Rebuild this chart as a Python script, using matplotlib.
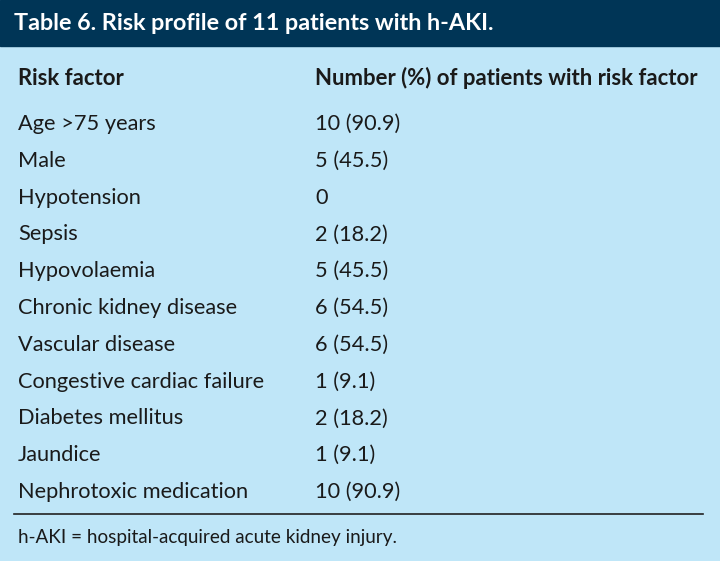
import matplotlib.pyplot as plt
from matplotlib.patches import Rectangle

title = "Table 6. Risk profile of 11 patients with h-AKI."
col_headers = ["Risk factor", "Number (%) of patients with risk factor"]
risk_factors = ["Age >75 years", "Male", "Hypotension", "Sepsis", "Hypovolaemia",
                "Chronic kidney disease", "Vascular disease",
                "Congestive cardiac failure", "Diabetes mellitus", "Jaundice",
                "Nephrotoxic medication"]
counts = [10, 5, 0, 2, 5, 6, 6, 1, 2, 1, 10]
percents = [90.9, 45.5, None, 18.2, 45.5, 54.5, 54.5, 9.1, 18.2, 9.1, 90.9]
footnote = "h-AKI = hospital-acquired acute kidney injury."

bg = "#bfe6f8"
navy = "#003556"
txt = "#1a1a1a"
plt.rcParams['font.family'] = ['Lato', 'DejaVu Sans']

fig = plt.figure(figsize=(7.2, 5.61), dpi=100)
fig.patch.set_facecolor(bg)
ax = fig.add_axes([0, 0, 1, 1])
ax.set_xlim(0, 720)
ax.set_ylim(561, 0)
ax.axis('off')

# title band
ax.add_patch(Rectangle((0, 0), 720, 46, color=navy))
ax.text(14, 23, title, color="white", fontsize=16.8, fontweight='bold', va='center')

x1, x2 = 18, 315
ax.text(x1, 78, col_headers[0], fontsize=15.9, fontweight='bold', va='center', color=txt)
ax.text(x2, 78, col_headers[1], fontsize=15.9, fontweight='bold', va='center', color=txt)

y0, dy = 124, 36.8
for i, (rf, c, p) in enumerate(zip(risk_factors, counts, percents)):
    y = y0 + i * dy
    val = f"{c}" if p is None else f"{c} ({p})"
    ax.text(x1, y, rf, fontsize=15.7, va='center', color=txt)
    ax.text(x2, y, val, fontsize=15.7, va='center', color=txt)

ax.plot([14, 703], [514, 514], color="#222222", lw=1.2)
ax.text(x1, 538, footnote, fontsize=13.6, va='center', color=txt)

fig.savefig("out.png", dpi=100, facecolor=bg)
